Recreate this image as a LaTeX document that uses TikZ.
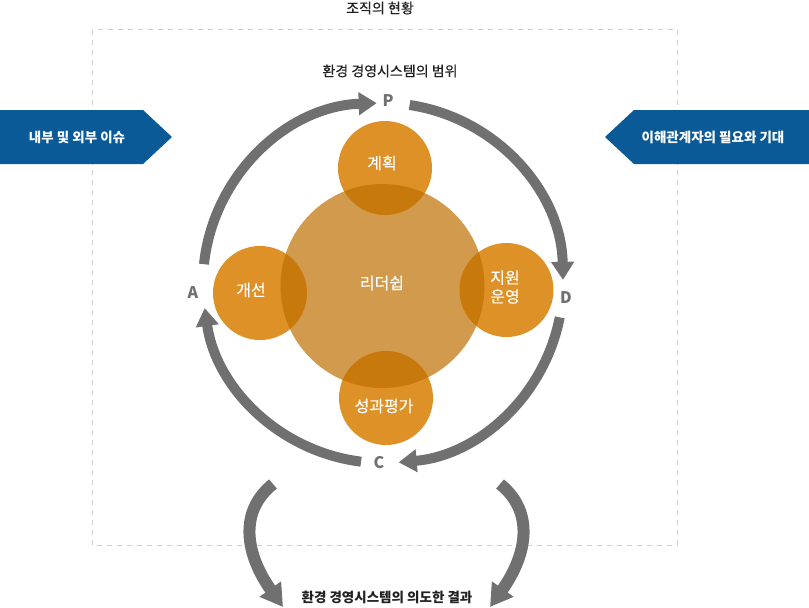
\documentclass[tikz,border=0pt]{standalone}
\usepackage{fontspec}
\setmainfont{Noto Sans CJK KR}
\newfontfamily\medfont[FakeBold=0.5]{Noto Sans CJK KR}
\usetikzlibrary{arrows.meta,calc}
\definecolor{cgray}{HTML}{707070}
\definecolor{cblue}{HTML}{0A5A97}
\definecolor{corange}{HTML}{DE9126}
\definecolor{cbig}{HTML}{BF6F00}
\definecolor{cdash}{HTML}{CFCFCF}
\definecolor{ctext}{HTML}{222222}
\begin{document}
\begin{tikzpicture}[x=1pt,y=-1pt,
  smallc/.style={circle,fill=corange,minimum size=94pt,inner sep=0pt},
  bigc/.style={circle,fill=cbig,fill opacity=0.7,minimum size=204pt,inner sep=0pt},
  ctxt/.style={text=white,font=\medfont\fontsize{16}{20}\selectfont,align=center,inner sep=0pt},
  ttl/.style={text=ctext,font=\medfont\fontsize{14}{16}\selectfont,inner sep=0pt},
  pdca/.style={text=cgray,font=\fontsize{16}{18}\selectfont\bfseries,inner sep=0pt},
  cyc/.style={draw=cgray,line width=10pt,-{Triangle[length=18pt,width=22pt]}},
  outc/.style={draw=cgray,line width=12pt,-{Triangle[length=22pt,width=25pt]}},
  bluetxt/.style={text=white,font=\fontsize{13.5}{16}\selectfont\bfseries,inner sep=0pt}]
\useasboundingbox (0,0) rectangle (809,608);
% dashed frame
\draw[cdash,line width=0.8pt,dash pattern=on 5pt off 5pt] (92.5,29.5) rectangle (677,545);
% titles
\node[ttl] (org) at (380,8) {조직의 현황};
\node[ttl] (scope) at (390,71) {환경 경영시스템의 범위};
\node[ttl,font=\fontsize{13.5}{16}\selectfont\bfseries] (result) at (387,597) {환경 경영시스템의 의도한 결과};
% blue arrows
\fill[cblue] (0,110) -- (143,110) -- (172,137) -- (143,164) -- (0,164) -- cycle;
\node[bluetxt] (issue) at (77,137) {내부 및 외부 이슈};
\fill[cblue] (809,110) -- (634,110) -- (605,137) -- (634,164) -- (809,164) -- cycle;
\node[bluetxt] (needs) at (713,137) {이해관계자의 필요와 기대};
% circles
\coordinate (c) at (383,283);
\node[smallc] (plan) at (385,168) {};
\node[smallc] (imp) at (260,293) {};
\node[smallc] (sup) at (506.5,290) {};
\node[smallc] (eval) at (386,398) {};
\node[bigc] (lead) at (382.5,286) {};
\node[ctxt] (tplan) at (382,163) {계획};
\node[ctxt] (timp) at (251,290) {개선};
\node[ctxt] (tlead) at (382,283) {리더쉽};
\node[ctxt] (tsup) at (505,287) {지원\\[-1pt]운영};
\node[ctxt] (teval) at (384,406) {성과평가};
% PDCA labels
\node[pdca] (P) at (388,101) {P};
\node[pdca] (D) at (566,298) {D};
\node[pdca] (C) at (379,463) {C};
\node[pdca] (A) at (193,293) {A};
% cycle arcs
\draw[cyc] ($(c)+(-174:180)$) arc[start angle=-174,end angle=-92,radius=180];
\draw[cyc] ($(c)+(-81.5:180)$) arc[start angle=-81.5,end angle=-1,radius=180];
\draw[cyc] ($(c)+(11:180)$) arc[start angle=11,end angle=85,radius=180];
\draw[cyc] ($(c)+(97:180)$) arc[start angle=97,end angle=172,radius=180];
% outcome arrows
\coordinate (l0) at (273,484);
\coordinate (l1) at (283,607);
\coordinate (r0) at (500,484);
\coordinate (r1) at (490,607);
\draw[outc] (l0) .. controls (238,512) and (246,555) .. (l1);
\draw[outc] (r0) .. controls (535,512) and (527,555) .. (r1);
\end{tikzpicture}
\end{document}
